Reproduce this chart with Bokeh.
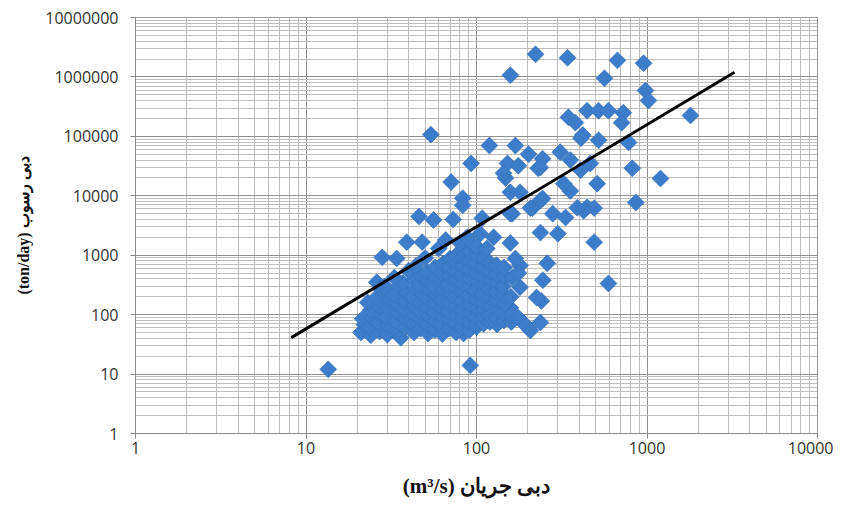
import numpy as np
from bokeh.plotting import figure
from bokeh.models import Range1d, FixedTicker, PrintfTickFormatter
from bokeh.embed import file_html
from bokeh.resources import INLINE

# ---- tick values ----
x_major = [1, 10, 100, 1000, 10000]
y_major = [1, 10, 100, 1000, 10000, 100000, 1000000, 10000000]
x_minor = [m * 10 ** k for k in range(4) for m in range(2, 10)]
y_minor = [m * 10 ** k for k in range(7) for m in range(2, 10)]

# ---- scattered / upper points (flow m3/s, sediment ton/day) ----
flow_a = [13.5, 92, 158, 222, 342, 671, 955, 563, 980, 1020, 1800,
          346, 380, 445, 520, 594, 726, 710, 420, 410, 520, 780,
          119, 169, 202, 310, 152, 176, 244, 230, 355, 408, 465, 820, 1200,
          148, 510, 355, 158, 180, 244, 860, 445, 213, 280, 162, 333, 490,
          54, 93, 71, 83, 83, 144, 425, 237, 325, 237, 390,
          490, 594, 260, 245, 240, 237, 200, 207, 189, 84, 158, 225, 180, 169,
          237, 300, 126, 158, 108, 158, 207, 73, 46, 56, 48, 39, 34, 28, 26, 180]
sed_a = [12, 14, 1.07e6, 2.4e6, 2.1e6, 1.9e6, 1.7e6, 9.5e5, 5.9e5, 4.0e5, 2.25e5,
         2.1e5, 1.7e5, 2.7e5, 2.7e5, 2.7e5, 2.5e5, 1.7e5, 1.05e5, 9.3e4, 8.6e4, 7.9e4,
         7.0e4, 7.0e4, 5.0e4, 5.4e4, 3.5e4, 3.2e4, 4.2e4, 2.9e4, 4.0e4, 2.7e4, 3.5e4, 2.9e4, 1.95e4,
         2.0e4, 1.6e4, 1.2e4, 1.15e4, 1.15e4, 9.0e3, 7.7e3, 6.4e3, 6.2e3, 5.0e3, 5.0e3, 4.3e3, 6.2e3,
         1.07e5, 3.5e4, 1.7e4, 9.1e3, 6.9e3, 2.4e4, 5.6e3, 3.0e4, 1.6e4, 8.3e3, 6.3e3,
         1660, 335, 730, 380, 170, 74, 61, 54, 72, 48, 130, 195, 290, 880,
         2400, 2300, 2000, 1600, 4200, 5000, 6200, 4000, 4500, 3900, 1660, 1660, 880, 920, 350, 670]

# ---- dense cluster points ----
flow_b = [21, 22, 21.5,
          24, 23.5, 24.5, 24, 23,
          27, 26.5, 27.5, 27, 26, 27.5,
          30, 30.5, 29.5, 30, 31, 30, 29,
          34, 33.5, 34.5, 34, 33, 35,
          36, 38, 38.5, 37.5, 38, 39, 37,
          43, 42.5, 43.5, 43, 42, 44, 43,
          47, 47.5, 46.5, 47, 48, 46, 47.5,
          52, 51.5, 52.5, 52, 51, 53, 52, 51.5,
          57, 57.5, 56.5, 57, 58, 56, 57.5, 57,
          63, 62.5, 63.5, 63, 62, 64, 63, 62.5, 63.5,
          69, 69.5, 68.5, 69, 70, 68, 69.5, 69, 70,
          76, 75.5, 76.5, 76, 75, 77, 76, 75.5, 76.5, 76,
          82, 83.5, 83, 82.5, 84, 83, 82, 83.5, 83, 82.5,
          91, 90.5, 91.5, 91, 90, 92, 91, 90.5, 91.5, 91,
          100, 99, 101, 100, 98, 102, 100, 99, 101,
          110, 109, 111, 110, 108, 112, 110, 109, 111,
          120, 119, 121, 120, 118, 122, 120, 119,
          132, 131, 133, 132, 130, 134, 132, 131,
          145, 144, 146, 145, 143, 147, 145,
          160, 161, 159, 162,
          175, 176,
          33, 40, 44, 50, 60, 66, 80, 88, 95, 100, 105, 115]
sed_b = [50, 68, 85,
         45, 62, 88, 120, 160,
         52, 72, 100, 140, 195, 270,
         46, 65, 90, 128, 180, 250, 300,
         55, 78, 110, 155, 215, 300,
         41, 60, 85, 120, 170, 240, 340,
         50, 70, 100, 140, 195, 280, 390,
         58, 82, 115, 160, 225, 320, 450,
         48, 68, 95, 135, 190, 265, 370, 520,
         55, 78, 110, 155, 215, 300, 430, 620,
         47, 65, 92, 130, 180, 255, 360, 500, 720,
         58, 82, 115, 160, 225, 315, 445, 630, 880,
         50, 70, 98, 140, 195, 275, 385, 540, 760, 1000,
         62, 86, 120, 170, 240, 335, 470, 660, 930, 1200,
         55, 75, 105, 150, 210, 295, 415, 580, 820, 1150,
         62, 90, 128, 180, 255, 360, 500, 710, 1000,
         70, 95, 125, 158, 222, 315, 440, 620, 870,
         75, 98, 138, 195, 275, 385, 540, 760,
         68, 88, 122, 172, 242, 340, 480, 680,
         80, 108, 152, 215, 300, 430, 620,
         75, 100, 200, 420,
         90, 500,
         420, 550, 650, 900, 1300, 1800, 1600, 2000, 1500, 1400, 2300, 1300]

# ---- fitted power-law trend line ----
fit_x = [8.2, 3260]
fit_y = [41, 1.2e6]

flow = flow_a + flow_b
sed = sed_a + sed_b

p = figure(width=833, height=508, x_axis_type="log", y_axis_type="log",
           x_range=Range1d(1, 10000), y_range=Range1d(1, 10000000),
           output_backend="svg", toolbar_location=None,
           min_border_left=135, min_border_right=16,
           min_border_top=17, min_border_bottom=75)

p.background_fill_color = "white"
p.border_fill_color = "white"
p.outline_line_color = "#9a9a9a"

for ax, major, minor in ((p.xaxis, x_major, x_minor), (p.yaxis, y_major, y_minor)):
    ax.ticker = FixedTicker(ticks=major, minor_ticks=minor)
    ax.formatter = PrintfTickFormatter(format="%d")
    ax.axis_line_color = "#8a8a8a"
    ax.major_tick_line_color = "#8a8a8a"
    ax.major_tick_out = 5
    ax.major_tick_in = 0
    ax.minor_tick_line_color = None
    ax.major_label_text_font = "Open Sans"
    ax.major_label_text_font_size = "16px"
    ax.major_label_text_color = "#333333"
    ax.axis_label_text_font = "Liberation Serif"
    ax.axis_label_text_font_style = "bold"
    ax.axis_label_text_color = "#111111"

p.xaxis.major_label_standoff = 3
p.yaxis.major_label_standoff = 12
p.xaxis.axis_label = "(m³/s) دبی جریان"
p.yaxis.axis_label = "(ton/day) دبی رسوب"
p.xaxis.axis_label_text_font_size = "21px"
p.yaxis.axis_label_text_font_size = "16px"
p.xaxis.axis_label_standoff = 17
p.yaxis.axis_label_standoff = 10

for g in (p.xgrid, p.ygrid):
    g.grid_line_color = "#8f8f8f"
    g.grid_line_width = 1
    g.minor_grid_line_color = "#bdbdbd"
    g.minor_grid_line_width = 1

p.scatter(flow, sed, marker="square", angle=np.pi / 4, size=12,
          fill_color="#3d7cc9", line_color="#3670b8", line_width=0.6)
p.line(fit_x, fit_y, line_color="black", line_width=3)

open("out.html", "w").write(file_html(p, INLINE))
